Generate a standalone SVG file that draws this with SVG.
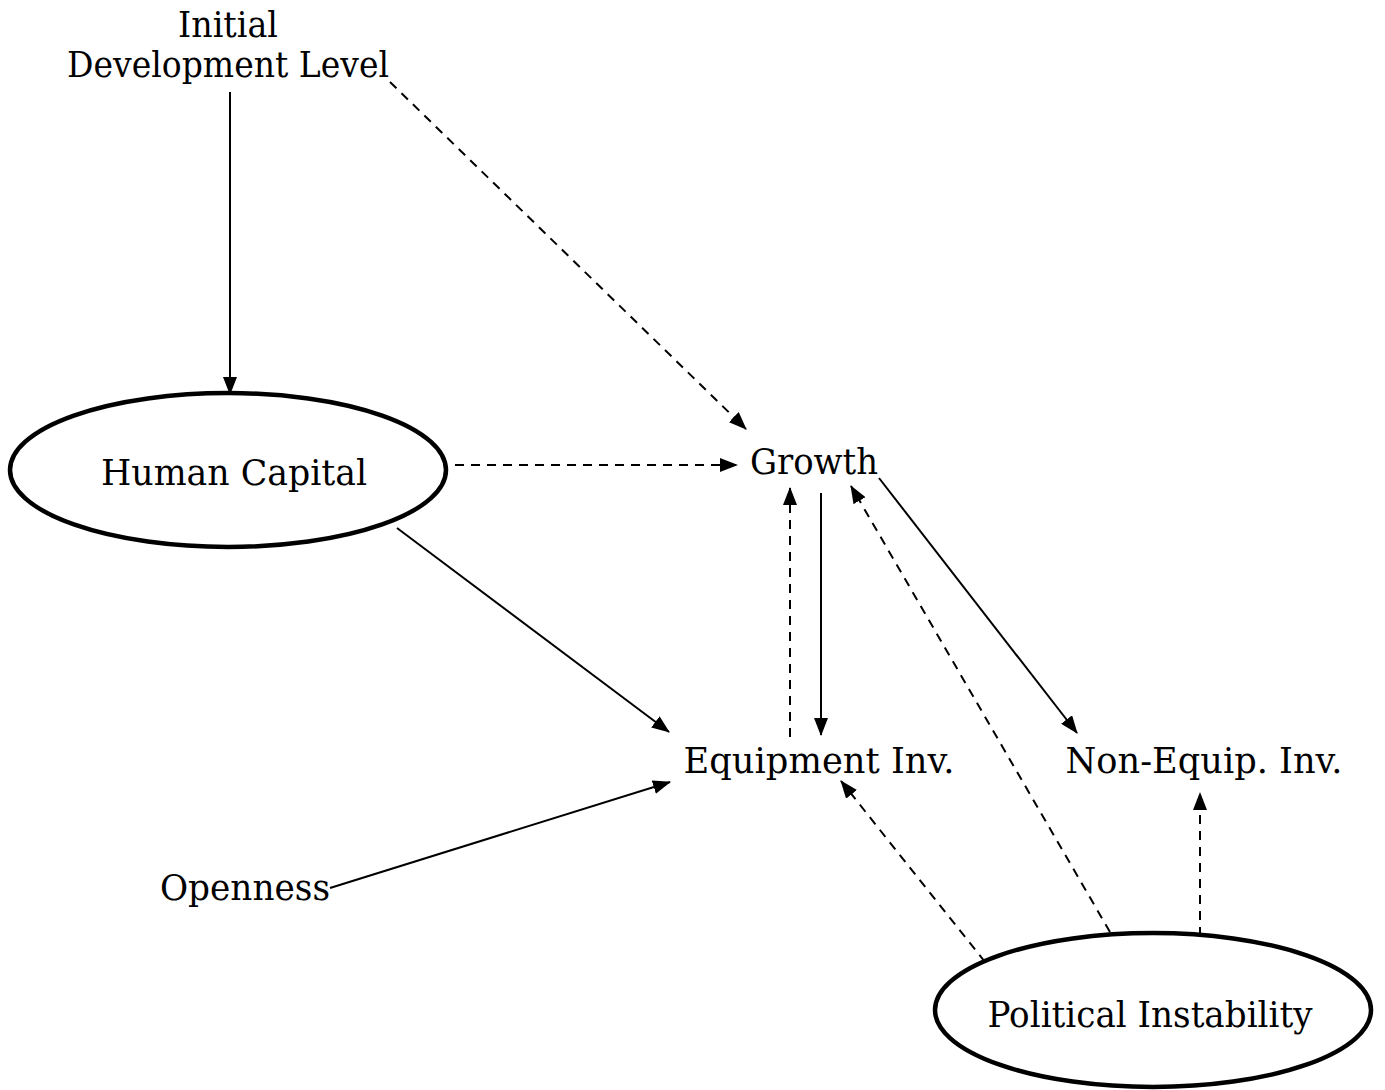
<svg xmlns="http://www.w3.org/2000/svg" width="1385" height="1090" viewBox="0 0 1385 1090">
<style>
text{font-family:"DejaVu Serif","Liberation Serif",serif;font-size:35px;fill:#000}
.s{stroke:#000;stroke-width:2;fill:none}
.d{stroke:#000;stroke-width:2;fill:none;stroke-dasharray:9,7}
.e{stroke:#000;stroke-width:4.5;fill:none}
</style>
<defs>
<marker id="a" markerWidth="18" markerHeight="14" refX="17" refY="7" orient="auto" markerUnits="userSpaceOnUse">
<path d="M0,0 L18,7 L0,14 Z" fill="#000"/>
</marker>
</defs>
<rect width="1385" height="1090" fill="#fff"/>
<g id="connectors">
<line class="s" x1="230" y1="92" x2="230" y2="394" marker-end="url(#a)"/>
<line class="d" x1="390" y1="82" x2="746" y2="429" marker-end="url(#a)"/>
<line class="d" x1="455" y1="465" x2="737" y2="465" marker-end="url(#a)"/>
<line class="s" x1="397" y1="528" x2="669" y2="732" marker-end="url(#a)"/>
<line class="d" x1="790" y1="737" x2="790" y2="488" marker-end="url(#a)"/>
<line class="s" x1="821" y1="493" x2="821" y2="735" marker-end="url(#a)"/>
<line class="s" x1="879" y1="478" x2="1077" y2="733" marker-end="url(#a)"/>
<line class="d" x1="1110" y1="932" x2="851" y2="486" marker-end="url(#a)"/>
<line class="d" x1="985" y1="962" x2="841" y2="781" marker-end="url(#a)"/>
<line class="d" x1="1200" y1="936" x2="1200" y2="793" marker-end="url(#a)"/>
<line class="s" x1="330" y1="888" x2="670" y2="782" marker-end="url(#a)"/>
</g>
<g id="initial">
<text x="228" y="37" text-anchor="middle" textLength="100" lengthAdjust="spacingAndGlyphs">Initial</text>
<text x="228" y="77" text-anchor="middle" textLength="322" lengthAdjust="spacingAndGlyphs">Development Level</text>
</g>
<g id="human-capital">
<ellipse class="e" cx="228" cy="470" rx="218" ry="77"/>
<text x="234" y="485" text-anchor="middle" textLength="266" lengthAdjust="spacingAndGlyphs">Human Capital</text>
</g>
<g id="growth">
<text x="814" y="474" text-anchor="middle" textLength="128" lengthAdjust="spacingAndGlyphs">Growth</text>
</g>
<g id="equipment">
<text x="819" y="773" text-anchor="middle" textLength="271" lengthAdjust="spacingAndGlyphs">Equipment Inv.</text>
</g>
<g id="non-equip">
<text x="1204" y="773" text-anchor="middle" textLength="277" lengthAdjust="spacingAndGlyphs">Non-Equip. Inv.</text>
</g>
<g id="openness">
<text x="245" y="900" text-anchor="middle" textLength="170" lengthAdjust="spacingAndGlyphs">Openness</text>
</g>
<g id="political">
<ellipse class="e" cx="1153" cy="1010" rx="218" ry="77"/>
<text x="1150" y="1027" text-anchor="middle" textLength="325" lengthAdjust="spacingAndGlyphs">Political Instability</text>
</g>
</svg>
